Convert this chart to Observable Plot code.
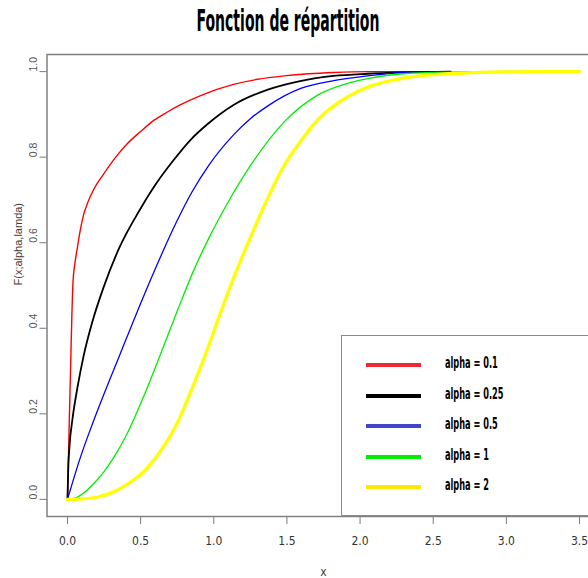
<!DOCTYPE html>
<html>
<head>
<meta charset="utf-8">
<script src="https://cdn.jsdelivr.net/npm/d3@7"></script>
<script src="https://cdn.jsdelivr.net/npm/@observablehq/plot@0.6"></script>
<style>
  html, body { margin: 0; padding: 0; background: #fff; overflow: hidden; }
  #wrap { position: relative; width: 588px; height: 578px; overflow: hidden; background: #fff; }
  #title { position: absolute; left: 0; top: 3px; width: 576px; text-align: center; }
  #tt { display: inline-block; font: bold 30px "Liberation Sans Narrow", "DejaVu Sans Condensed", "Open Sans", sans-serif; color: #000; transform-origin: 50% 50%; white-space: nowrap; }
  #chart { position: absolute; left: 0; top: 40px; width: 600px; }
  #chart svg { max-width: none !important; }
  #legend { position: absolute; left: 341px; top: 335px; width: 260px; height: 179px; border: 1.5px solid #8a8a8a; background: #fff; }
  .lg-line { position: absolute; left: 24px; width: 55px; height: 4px; }
  .lg-text { position: absolute; left: 103px; font: bold 15px "Liberation Sans Narrow", "DejaVu Sans Condensed", sans-serif; color: #000; white-space: nowrap; transform-origin: 0 50%; line-height: 18px; }
</style>
</head>
<body>
<div id="wrap">
  <div id="title"><span id="tt">Fonction de répartition</span></div>
  <div id="chart"></div>
  <div id="legend"></div>
</div>
<script>
// ---- data ----
const alphas = ["0.1", "0.25", "0.5", "1", "2"];

const xTicks = [0, 0.5, 1, 1.5, 2, 2.5, 3, 3.5];
const yTicks = [0, 0.2, 0.4, 0.6, 0.8, 1.0];

const xA01 = [0, 0.01, 0.02, 0.03, 0.038, 0.05, 0.066, 0.085, 0.11, 0.14, 0.18, 0.246, 0.33, 0.41, 0.5, 0.59, 0.68, 0.77, 0.91, 1.135, 1.3, 1.48, 1.65, 1.82, 2.05, 2.5];
const yA01 = [0, 0.15, 0.29, 0.43, 0.51, 0.55, 0.585, 0.625, 0.665, 0.695, 0.725, 0.76, 0.8, 0.832, 0.86, 0.886, 0.905, 0.922, 0.944, 0.97, 0.982, 0.99, 0.995, 0.998, 1.0, 1.0];

const xA025 = [0, 0.005, 0.015, 0.033, 0.07, 0.11, 0.17, 0.246, 0.35, 0.5, 0.61, 0.73, 0.84, 0.96, 1.135, 1.37, 1.59, 1.82, 2.05, 2.3, 2.62];
const yA025 = [0, 0.07, 0.13, 0.185, 0.265, 0.335, 0.415, 0.495, 0.585, 0.68, 0.74, 0.795, 0.84, 0.878, 0.922, 0.958, 0.978, 0.99, 0.995, 0.998, 1.0];

const xA05 = [0, 0.09, 0.18, 0.36, 0.545, 0.75, 0.85, 0.96, 1.135, 1.25, 1.37, 1.59, 1.82, 2.05, 2.25, 2.45];
const yA05 = [0, 0.1, 0.185, 0.34, 0.495, 0.652, 0.718, 0.778, 0.852, 0.89, 0.92, 0.96, 0.979, 0.99, 0.997, 1.0];

const xA1 = [0, 0.065, 0.12, 0.18, 0.25, 0.32, 0.41, 0.52, 0.64, 0.75, 0.86, 0.98, 1.09, 1.25, 1.48, 1.71, 1.93, 2.07, 2.3, 2.6, 2.85];
const yA1 = [0, 0.005, 0.017, 0.037, 0.065, 0.1, 0.155, 0.24, 0.343, 0.44, 0.533, 0.62, 0.69, 0.78, 0.882, 0.945, 0.974, 0.985, 0.995, 0.999, 1.0];

const xA2 = [0, 0.1, 0.2, 0.29, 0.37, 0.45, 0.5, 0.57, 0.66, 0.75, 0.85, 0.95, 1.05, 1.15, 1.25, 1.35, 1.48, 1.6, 1.71, 1.82, 1.93, 2.07, 2.3, 2.6, 2.9, 3.2, 3.5];
const yA2 = [0, 0.001, 0.005, 0.014, 0.027, 0.045, 0.058, 0.083, 0.125, 0.178, 0.258, 0.345, 0.44, 0.53, 0.612, 0.69, 0.78, 0.84, 0.887, 0.92, 0.944, 0.966, 0.985, 0.995, 0.999, 1.0, 1.0];

// ---- styles ----
const lineColors = ["#ff0000", "#000000", "#0000ff", "#00ee00", "#ffff00"];
const lineWidths = [1.4, 1.8, 1.3, 1.3, 3.3];
const legendColors = ["#ee2a34", "#000000", "#3f46cc", "#00ee00", "#ffe800"];

const xs = [xA01, xA025, xA05, xA1, xA2];
const ys = [yA01, yA025, yA05, yA1, yA2];

const seriesMarks = alphas.map((a, i) => {
  const rows = xs[i].map((x, j) => ({x, y: ys[i][j]}));
  return Plot.line(rows, {x: "x", y: "y", stroke: lineColors[i], strokeWidth: lineWidths[i], curve: "monotone-x"});
});

const narrow = '"Liberation Sans Narrow", "DejaVu Sans Condensed", sans-serif';

const chart = Plot.plot({
  width: 600,
  height: 538,
  marginLeft: 46.5,
  marginRight: 0.5,
  marginTop: 14,
  marginBottom: 62,
  style: {color: "#7a7a7a", background: "transparent", maxWidth: "none"},
  x: {domain: [-0.14, 3.64], ticks: xTicks, tickFormat: () => "", tickSize: 8, label: null},
  y: {domain: [-0.04, 1.04], ticks: yTicks, tickFormat: () => "", tickSize: 7, label: null},
  marks: [
    Plot.frame({stroke: "#808080", strokeWidth: 1.5}),
    ...seriesMarks,
    Plot.text(xTicks, {x: d => d, text: d => d.toFixed(1), frameAnchor: "bottom", dy: 25, lineAnchor: "middle", fill: "#333", fontSize: 12, fontFamily: narrow}),
    Plot.text(yTicks, {y: d => d, text: d => d.toFixed(1), frameAnchor: "left", dx: -13.5, rotate: -90, lineAnchor: "middle", fill: "#555", fontSize: 10.5, fontFamily: "Liberation Sans, Arial, sans-serif"}),
    Plot.text(["F(x;alpha,lamda)"], {frameAnchor: "left", dx: -28.5, rotate: -90, lineAnchor: "middle", fill: "#4a3a30", fontSize: 11, fontFamily: "Liberation Sans, Arial, sans-serif"}),
    Plot.text(["x"], {frameAnchor: "bottom", dy: 56, lineAnchor: "middle", fill: "#444", fontSize: 12, fontFamily: narrow})
  ]
});
chart.style.maxWidth = "none";
document.getElementById("chart").appendChild(chart);

// title: squeeze to the reference's condensed width
const tt = document.getElementById("tt");
const tw = tt.offsetWidth;
tt.style.transform = `scaleX(${183 / tw})`;

// legend
const legend = document.getElementById("legend");
let scale = null;
alphas.forEach((a, i) => {
  const ln = document.createElement("div");
  ln.className = "lg-line";
  ln.style.top = (27 + i * 30.5) + "px";
  ln.style.background = legendColors[i];
  legend.appendChild(ln);
  const tx = document.createElement("div");
  tx.className = "lg-text";
  tx.textContent = "alpha = " + a;
  tx.style.top = (18 + i * 30.5) + "px";
  legend.appendChild(tx);
  if (scale === null) scale = 53 / tx.offsetWidth;
  tx.style.transform = `scaleX(${scale})`;
});
</script>
</body>
</html>
